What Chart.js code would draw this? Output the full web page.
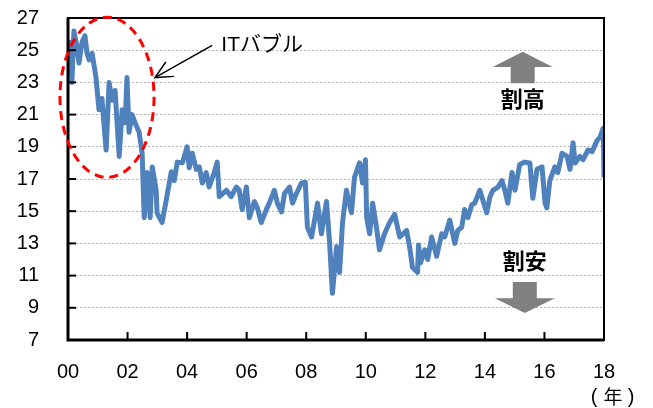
<!DOCTYPE html>
<html>
<head>
<meta charset="utf-8">
<script src="https://cdn.jsdelivr.net/npm/chart.js@4"></script>
<style>
  html, body { margin: 0; padding: 0; background: #fff; }
  #wrap { width: 653px; height: 408px; }
</style>
</head>
<body>
<div id="wrap"><canvas id="perChart" width="653" height="408"></canvas></div>
<script>
// time in years since 2000, and PER
const years = [0.00, 0.07, 0.13, 0.20, 0.30, 0.37, 0.47, 0.57, 0.64, 0.71, 0.81, 0.94, 1.04, 1.14, 1.28, 1.38, 1.48, 1.58, 1.72, 1.82,
  1.92, 1.98, 2.05, 2.15, 2.25, 2.39, 2.49, 2.56, 2.66, 2.76, 2.83, 2.96, 2.99, 3.16, 3.30, 3.47, 3.57, 3.67, 3.84, 4.00,
  4.07, 4.17, 4.31, 4.41, 4.51, 4.64, 4.74, 4.91, 5.01, 5.08, 5.32, 5.48, 5.65, 5.75, 5.85, 5.99, 6.09, 6.26, 6.36, 6.49,
  6.66, 6.76, 6.93, 7.03, 7.17, 7.27, 7.44, 7.54, 7.67, 7.84, 7.97, 8.04, 8.18, 8.38, 8.51, 8.68, 8.78, 8.88, 9.02, 9.12,
  9.22, 9.35, 9.52, 9.62, 9.79, 9.89, 9.99, 10.03, 10.13, 10.23, 10.36, 10.46, 10.63, 10.80, 10.97, 11.14, 11.37, 11.47, 11.57, 11.74,
  11.77, 11.84, 11.98, 12.08, 12.21, 12.38, 12.55, 12.65, 12.82, 12.99, 13.09, 13.22, 13.32, 13.43, 13.56, 13.66, 13.83, 13.93, 14.06, 14.17,
  14.27, 14.44, 14.57, 14.67, 14.77, 14.91, 15.01, 15.17, 15.34, 15.51, 15.61, 15.75, 15.92, 16.02, 16.08, 16.18, 16.35, 16.45, 16.59, 16.76,
  16.86, 16.96, 17.03, 17.19, 17.30, 17.46, 17.60, 17.77, 17.87, 17.97, 17.99, 18.00];
const per = [24.6, 25.5, 23.0, 26.2, 25.2, 24.2, 25.5, 25.9, 24.8, 24.4, 24.8, 23.3, 21.3, 22.0, 18.8, 23.0, 21.9, 22.5, 18.4, 21.3,
  20.5, 23.3, 19.9, 21.0, 20.5, 19.9, 18.6, 14.6, 17.4, 14.6, 17.75, 16.3, 14.9, 14.3, 15.7, 17.45, 16.9, 18.05, 18.0, 19.0,
  17.7, 18.6, 17.6, 17.75, 16.75, 17.4, 16.5, 17.4, 18.05, 15.9, 16.3, 15.9, 16.5, 16.3, 15.1, 16.5, 14.6, 15.6, 15.2, 14.3,
  15.1, 15.5, 16.3, 15.5, 14.95, 16.1, 16.5, 15.5, 16.1, 16.75, 16.8, 14.0, 13.4, 15.5, 13.6, 15.6, 13.2, 9.9, 12.8, 11.2,
  14.3, 16.3, 14.9, 17.1, 18.0, 16.75, 18.2, 14.6, 13.6, 15.5, 14.0, 12.6, 13.6, 14.3, 14.8, 13.4, 13.8, 12.8, 11.5, 11.2,
  12.9, 11.8, 12.6, 12.0, 13.4, 12.2, 13.6, 13.4, 14.45, 13.0, 13.8, 14.0, 15.1, 14.6, 15.4, 15.5, 16.3, 15.7, 14.9, 15.9,
  16.3, 16.5, 16.9, 16.3, 15.5, 17.4, 16.3, 17.9, 18.05, 18.0, 15.8, 17.6, 17.75, 15.5, 15.2, 16.9, 17.75, 17.4, 18.6, 18.4,
  17.6, 19.25, 18.0, 18.4, 18.2, 18.8, 18.7, 19.4, 19.6, 20.15, 18.6, 17.1];
const yearTicks = [0, 2, 4, 6, 8, 10, 12, 14, 16, 18];
const perTicks = [7, 9, 11, 13, 15, 17, 19, 21, 23, 25, 27];

const points = years.map((t, i) => ({ x: t, y: per[i] }));
const jp = '"Noto Sans CJK JP", sans-serif';

const overlay = {
  id: 'overlay',
  afterDatasetsDraw(chart) {
    const { ctx, chartArea: a, scales: { x, y } } = chart;
    ctx.save();
    // frame
    ctx.strokeStyle = '#000';
    ctx.lineWidth = 2;
    ctx.strokeRect(a.left, a.top, a.right - a.left, a.bottom - a.top);
    ctx.lineWidth = 3;
    ctx.beginPath();
    ctx.moveTo(a.left, a.top);
    ctx.lineTo(a.left, a.bottom);
    ctx.lineTo(a.right, a.bottom);
    ctx.stroke();
    // inward ticks
    ctx.lineWidth = 2;
    perTicks.forEach(v => {
      const py = y.getPixelForValue(v);
      ctx.beginPath(); ctx.moveTo(a.left, py); ctx.lineTo(a.left + 8, py); ctx.stroke();
    });
    yearTicks.forEach(v => {
      const px = x.getPixelForValue(v);
      ctx.beginPath(); ctx.moveTo(px, a.bottom); ctx.lineTo(px, a.bottom - 8); ctx.stroke();
    });

    // red dashed ellipse round the IT bubble
    const ex1 = x.getPixelForValue(-0.27), ex2 = x.getPixelForValue(2.89);
    const ey1 = y.getPixelForValue(27.05), ey2 = y.getPixelForValue(17.1);
    ctx.strokeStyle = '#ff0000';
    ctx.lineWidth = 3;
    ctx.setLineDash([9, 6]);
    ctx.beginPath();
    ctx.ellipse((ex1 + ex2) / 2, (ey1 + ey2) / 2, (ex2 - ex1) / 2, (ey2 - ey1) / 2, 0, 0, Math.PI * 2);
    ctx.stroke();
    ctx.setLineDash([]);

    // pointer arrow
    const ax1 = x.getPixelForValue(4.84), ay1 = y.getPixelForValue(25.3);
    const ax2 = x.getPixelForValue(2.92), ay2 = y.getPixelForValue(23.3);
    ctx.strokeStyle = '#000';
    ctx.lineWidth = 1.5;
    ctx.beginPath(); ctx.moveTo(ax1, ay1); ctx.lineTo(ax2, ay2); ctx.stroke();
    const ang = Math.atan2(ay1 - ay2, ax1 - ax2);
    ctx.beginPath();
    ctx.moveTo(ax2 + 19 * Math.cos(ang - 0.45), ay2 + 19 * Math.sin(ang - 0.45));
    ctx.lineTo(ax2, ay2);
    ctx.lineTo(ax2 + 19 * Math.cos(ang + 0.45), ay2 + 19 * Math.sin(ang + 0.45));
    ctx.stroke();

    ctx.fillStyle = '#000';
    ctx.font = '21px "Liberation Sans", ' + jp;
    ctx.textAlign = 'left';
    ctx.textBaseline = 'middle';
    ctx.fillText('ITバブル', x.getPixelForValue(5.15), y.getPixelForValue(25.3));

    // up / down arrows
    ctx.fillStyle = '#808080';
    const ux = x.getPixelForValue(15.27);
    ctx.beginPath();
    ctx.moveTo(ux, y.getPixelForValue(24.9));
    ctx.lineTo(ux + 30, y.getPixelForValue(23.95));
    ctx.lineTo(ux + 12, y.getPixelForValue(23.95));
    ctx.lineTo(ux + 12, y.getPixelForValue(22.95));
    ctx.lineTo(ux - 12, y.getPixelForValue(22.95));
    ctx.lineTo(ux - 12, y.getPixelForValue(23.95));
    ctx.lineTo(ux - 30, y.getPixelForValue(23.95));
    ctx.closePath();
    ctx.fill();
    const dx = x.getPixelForValue(15.34);
    ctx.beginPath();
    ctx.moveTo(dx - 12, y.getPixelForValue(10.6));
    ctx.lineTo(dx + 12, y.getPixelForValue(10.6));
    ctx.lineTo(dx + 12, y.getPixelForValue(9.6));
    ctx.lineTo(dx + 30, y.getPixelForValue(9.6));
    ctx.lineTo(dx, y.getPixelForValue(8.67));
    ctx.lineTo(dx - 30, y.getPixelForValue(9.6));
    ctx.lineTo(dx - 12, y.getPixelForValue(9.6));
    ctx.closePath();
    ctx.fill();

    ctx.fillStyle = '#000';
    ctx.font = 'bold 22px ' + jp;
    ctx.textAlign = 'center';
    ctx.fillText('割高', ux, y.getPixelForValue(21.97));
    ctx.fillText('割安', dx, y.getPixelForValue(11.9));
    ctx.restore();
  },
  afterDraw(chart) {
    const { ctx } = chart;
    ctx.save();
    ctx.fillStyle = '#000';
    ctx.textBaseline = 'middle';
    ctx.textAlign = 'center';
    // unit labels: "( 年)" bottom right, "( 倍 )" mostly cut off at the top
    ctx.font = '20px "Liberation Sans"';
    ctx.fillText('(', 594, 397);
    ctx.fillText(')', 631, 397);
    ctx.fillText('(', 16, -10);
    ctx.fillText(')', 70, -10);
    ctx.font = '19px ' + jp;
    ctx.fillText('年', 613, 397);
    ctx.fillText('倍', 43, -10);
    ctx.restore();
  }
};

new Chart(document.getElementById('perChart').getContext('2d'), {
  type: 'line',
  data: {
    datasets: [{
      label: 'PER',
      data: points,
      borderColor: '#4f81bd',
      borderWidth: 5,
      borderJoinStyle: 'round',
      pointRadius: 0,
      tension: 0,
      fill: false
    }]
  },
  options: {
    responsive: false,
    animation: false,
    layout: { padding: { top: 18, right: 49, left: 0, bottom: 0 } },
    plugins: { legend: { display: false }, tooltip: { enabled: false } },
    scales: {
      x: {
        type: 'linear',
        min: 0,
        max: 18,
        afterBuildTicks: s => { s.ticks = yearTicks.map(v => ({ value: v })); },
        afterFit: s => { s.height = 68; s.paddingLeft = 0; s.paddingRight = 0; },
        grid: { display: false, drawTicks: false },
        border: { display: false },
        ticks: {
          padding: 20,
          color: '#000',
          font: { family: '"Liberation Sans"', size: 20 },
          maxRotation: 0,
          callback: v => String(v).padStart(2, '0')
        }
      },
      y: {
        min: 7,
        max: 27,
        afterBuildTicks: s => { s.ticks = perTicks.map(v => ({ value: v })); },
        afterFit: s => { s.width = 68; s.paddingTop = 0; s.paddingBottom = 0; },
        grid: {
          drawTicks: false,
          color: ctx => (ctx.tick && (ctx.tick.value === 7 || ctx.tick.value === 27)) ? 'rgba(0,0,0,0)' : '#b4b4b4',
          lineWidth: 1
        },
        border: { display: false, dash: [2, 2] },
        ticks: {
          padding: 29,
          color: '#000',
          font: { family: '"Liberation Sans"', size: 20 }
        }
      }
    }
  },
  plugins: [overlay]
});
</script>
</body>
</html>
